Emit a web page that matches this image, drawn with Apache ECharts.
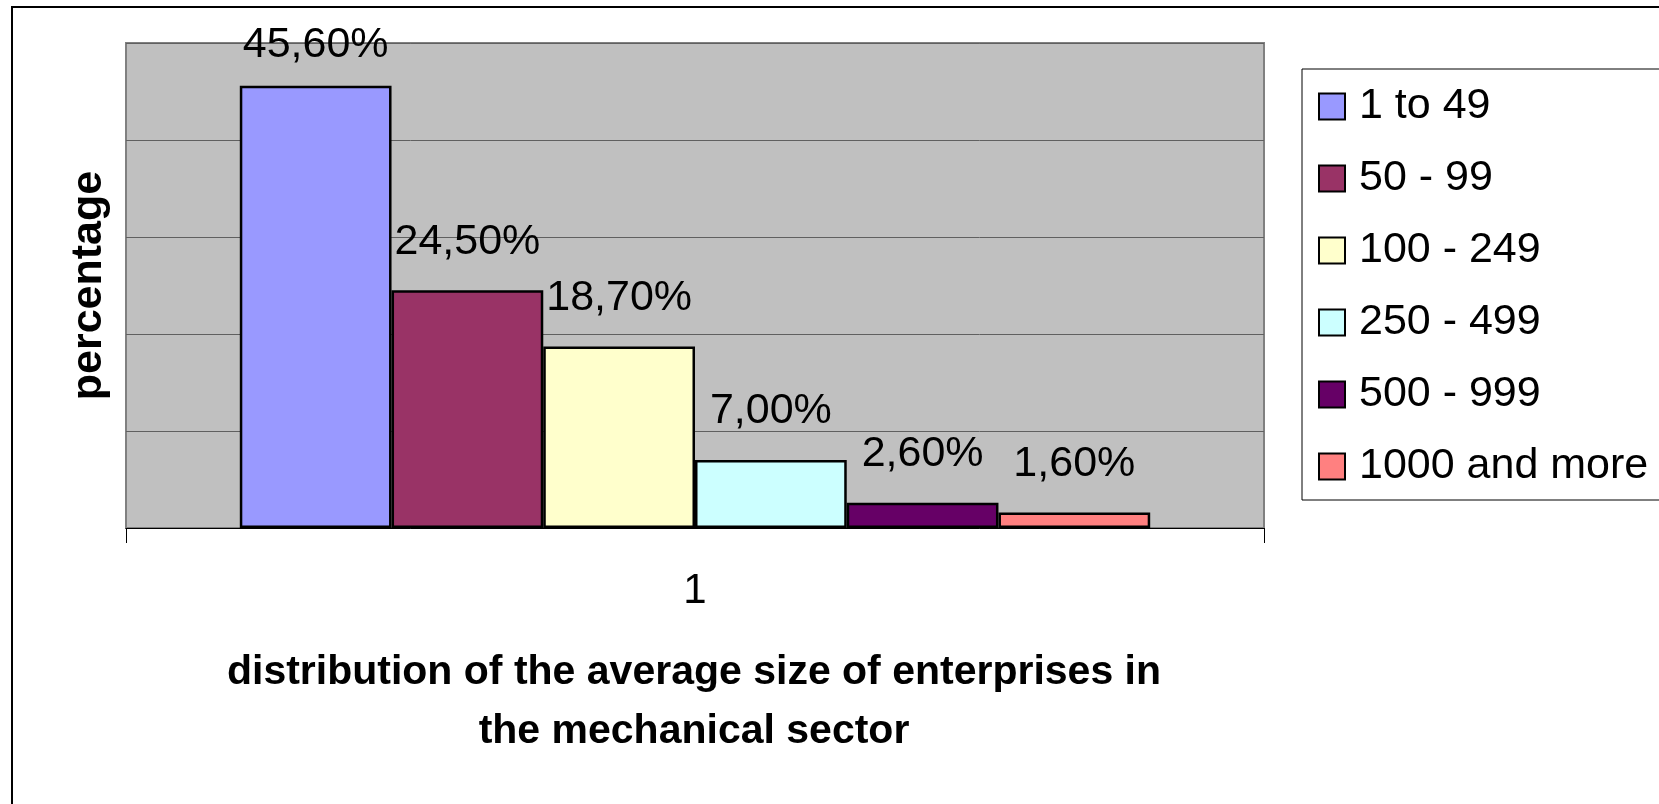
<!DOCTYPE html>
<html>
<head>
<meta charset="utf-8">
<script src="https://cdn.jsdelivr.net/npm/echarts@6/dist/echarts.min.js"></script>
<style>
  html, body { margin: 0; padding: 0; background: #fff; }
  #chart { width: 1659px; height: 804px; }
</style>
</head>
<body>
<div id="chart"></div>
<script>
// Enterprise size classes (number of employees) and their share, in percent
const categories = ['1'];
const sizeClasses = ['1 to 49', '50 - 99', '100 - 249', '250 - 499', '500 - 999', '1000 and more'];
const shares = [45.6, 24.5, 18.7, 7.0, 2.6, 1.6];
const classColors = ['#9999FF', '#993366', '#FFFFCC', '#CCFFFF', '#660066', '#FF8080'];
const yTicks = [0, 10, 20, 30, 40, 50];

const FONT = "'Liberation Sans', Arial, sans-serif";

function pct(v) {
  return v.toFixed(2).replace('.', ',') + '%';
}

const series = sizeClasses.map((name, i) => ({
  name: name,
  type: 'bar',
  data: [shares[i]],
  barGap: '0%',
  barCategoryGap: '20%',
  itemStyle: { color: classColors[i], borderColor: '#000', borderWidth: 2.5 },
  label: {
    show: true,
    position: 'top',
    distance: i === 0 ? 19 : 27,
    formatter: p => pct(p.value),
    color: '#000',
    fontFamily: FONT,
    fontSize: 43
  }
}));

const chart = echarts.init(document.getElementById('chart'));
chart.setOption({
  animation: false,
  backgroundColor: '#fff',
  grid: {
    left: 126, top: 43, right: 395, bottom: 276,
    show: true,
    backgroundColor: '#C0C0C0',
    borderColor: '#808080',
    borderWidth: 2,
    containLabel: false
  },
  xAxis: {
    type: 'category',
    data: categories,
    axisLine: { show: true, lineStyle: { color: '#000', width: 1 } },
    axisTick: { show: true, length: 15, lineStyle: { color: '#000' } },
    axisLabel: { margin: 42, color: '#000', fontFamily: FONT, fontSize: 42 }
  },
  yAxis: {
    type: 'value',
    min: yTicks[0],
    max: yTicks[yTicks.length - 1],
    interval: yTicks[1] - yTicks[0],
    name: 'percentage',
    nameLocation: 'middle',
    nameGap: 15,
    nameTextStyle: { color: '#000', fontFamily: FONT, fontSize: 43, fontWeight: 'bold' },
    axisLine: { show: false },
    axisTick: { show: false },
    axisLabel: { show: false },
    splitLine: { show: true, lineStyle: { color: '#606060', width: 1 } }
  },
  legend: {
    orient: 'vertical',
    left: 1302,
    top: 69,
    icon: 'rect',
    itemWidth: 26,
    itemHeight: 26,
    itemGap: 29,
    padding: [16, 12, 12, 16],
    backgroundColor: '#fff',
    borderColor: '#000',
    borderWidth: 1,
    borderRadius: 0,
    textStyle: { color: '#000', fontFamily: FONT, fontSize: 43, padding: [0, 0, 0, 9] },
    data: sizeClasses
  },
  graphic: [
    {
      type: 'rect',
      shape: { x: 12, y: 7, width: 1700, height: 900 },
      style: { fill: null, stroke: '#000', lineWidth: 2 },
      silent: true,
      z: -10
    },
    {
      type: 'text',
      x: 694,
      y: 702,
      style: {
        text: 'distribution of the average size of enterprises in\nthe mechanical sector',
        align: 'center',
        verticalAlign: 'middle',
        fill: '#000',
        font: 'bold 41px ' + FONT,
        lineHeight: 59
      }
    }
  ],
  series: series
});
</script>
</body>
</html>
